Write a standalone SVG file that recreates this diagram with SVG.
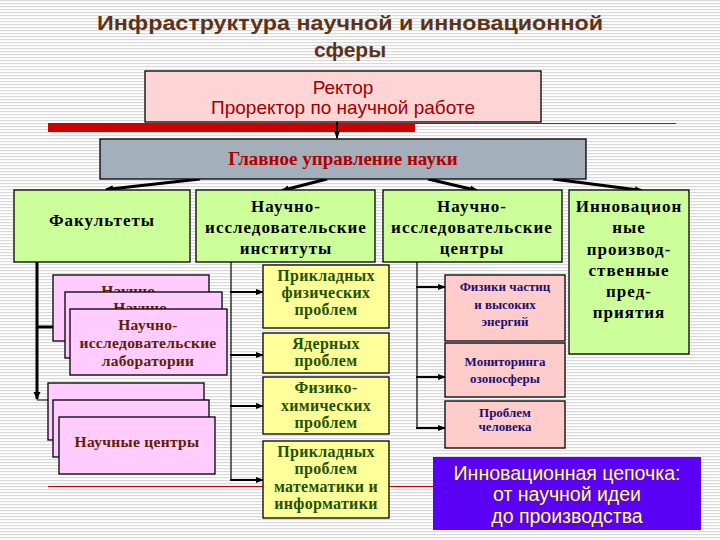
<svg xmlns="http://www.w3.org/2000/svg" width="720" height="540" viewBox="0 0 720 540">
<defs>
<pattern id="stripes" width="6" height="3" patternUnits="userSpaceOnUse">
<rect width="6" height="3" fill="#ffffff"/>
<rect y="0" width="6" height="1.2" fill="#d9d9d9"/>
</pattern>
<marker id="ah" markerWidth="8" markerHeight="8" refX="7" refY="4" orient="auto" markerUnits="userSpaceOnUse">
<path d="M0,0.5 L8,4 L0,7.5 Z" fill="#000"/>
</marker>
<marker id="ahs" markerWidth="8" markerHeight="8" refX="7" refY="4" orient="auto" markerUnits="userSpaceOnUse">
<path d="M0,1 L8,4 L0,7 Z" fill="#000"/>
</marker>
</defs>
<style>
.box{stroke:#000;stroke-width:1.3}
.green{fill:#ccff99}
.lab{fill:#ffccff}
.rose{fill:#ffcccc}
.yel{fill:#ffff99}
.ser{font-family:"Liberation Serif","DejaVu Serif",serif;font-weight:bold;text-anchor:middle}
.sans{font-family:"Liberation Sans",Arial,sans-serif;text-anchor:middle}
.blk{fill:#000;font-size:17px;letter-spacing:1px}
.brn{fill:#5c2200;font-size:15.5px;letter-spacing:0.3px}
.grn{fill:#1f5200;font-size:16px;letter-spacing:0.3px}
.navy{fill:#1a1070;font-size:13px}
.chain{fill:#ffff70;font-size:19.5px}
.con{stroke:#000;fill:none}
</style>
<rect width="720" height="540" fill="url(#stripes)"/>
<!-- template lines -->
<rect x="48" y="123" width="367" height="9" fill="#cc0000"/>
<line x1="415" y1="123.5" x2="676" y2="123.5" stroke="#cc0000" stroke-width="1"/>
<line x1="48" y1="486.5" x2="433" y2="486.5" stroke="#cc0000" stroke-width="1"/>

<g id="title">
<text class="sans" x="350" y="30" font-weight="bold" font-size="21" fill="#5c3317" textLength="506" lengthAdjust="spacingAndGlyphs">Инфраструктура научной и инновационной</text>
<text class="sans" x="350" y="57" font-weight="bold" font-size="21" fill="#5c3317">сферы</text>
</g>

<g id="connectors">
<line class="con" x1="337" y1="122" x2="337" y2="138" stroke-width="2" marker-end="url(#ahs)"/>
<line class="con" x1="200" y1="179" x2="106" y2="189.5" stroke-width="3" marker-end="url(#ah)"/>
<line class="con" x1="327" y1="179" x2="282" y2="190.5" stroke-width="3" marker-end="url(#ah)"/>
<line class="con" x1="428" y1="179" x2="477" y2="190.5" stroke-width="3" marker-end="url(#ah)"/>
<line class="con" x1="553" y1="179" x2="642" y2="190.5" stroke-width="3" marker-end="url(#ah)"/>
<!-- faculties -->
<line class="con" x1="37" y1="262" x2="37" y2="399" stroke-width="3" marker-end="url(#ah)"/>
<line class="con" x1="37" y1="400" x2="48" y2="400" stroke-width="1"/>
<line class="con" x1="37" y1="327" x2="65" y2="327" stroke-width="3" marker-end="url(#ah)"/>
<!-- institutes -->
<line class="con" x1="231" y1="262" x2="231" y2="480" stroke-width="1.2"/>
<line class="con" x1="230" y1="292" x2="263" y2="292" stroke-width="2" marker-end="url(#ahs)"/>
<line class="con" x1="230" y1="355" x2="263" y2="355" stroke-width="2" marker-end="url(#ahs)"/>
<line class="con" x1="230" y1="406" x2="263" y2="406" stroke-width="2" marker-end="url(#ahs)"/>
<line class="con" x1="230" y1="480" x2="263" y2="480" stroke-width="2" marker-end="url(#ahs)"/>
<!-- centres -->
<line class="con" x1="417" y1="262" x2="417" y2="429" stroke-width="1.2"/>
<line class="con" x1="416" y1="287" x2="445" y2="287" stroke-width="2" marker-end="url(#ahs)"/>
<line class="con" x1="416" y1="377" x2="445" y2="377" stroke-width="2" marker-end="url(#ahs)"/>
<line class="con" x1="416" y1="428" x2="445" y2="428" stroke-width="2" marker-end="url(#ahs)"/>
</g>

<g id="rector">
<rect class="box" x="145" y="71" width="396" height="51" fill="#fdd5d5"/>
<text class="sans" x="343" y="94" font-size="19" fill="#a00000">Ректор</text>
<text class="sans" x="343" y="114" font-size="19" fill="#a00000">Проректор по научной работе</text>
</g>

<g id="main">
<rect class="box" x="100" y="139" width="486" height="40" fill="#a4afbc"/>
<text class="ser" x="343" y="165" font-size="19" fill="#b00000">Главное управление науки</text>
</g>

<g id="faculties">
<rect class="box green" x="14" y="190" width="176" height="72"/>
<text class="ser blk" x="102" y="226">Факультеты</text>
</g>

<g id="institutes">
<rect class="box green" x="196" y="190" width="179" height="72"/>
<text class="ser blk" x="286" y="212">Научно-</text>
<text class="ser blk" x="286" y="233">исследовательские</text>
<text class="ser blk" x="286" y="254">институты</text>
</g>

<g id="centres">
<rect class="box green" x="383" y="190" width="179" height="72"/>
<text class="ser blk" x="472" y="212">Научно-</text>
<text class="ser blk" x="472" y="233">исследовательские</text>
<text class="ser blk" x="472" y="254">центры</text>
</g>

<g id="innov">
<rect class="box green" x="569" y="190" width="120" height="164"/>
<text class="ser blk" x="629" y="212">Инновацион</text>
<text class="ser blk" x="629" y="233">ные</text>
<text class="ser blk" x="629" y="255">производ-</text>
<text class="ser blk" x="629" y="276">ственные</text>
<text class="ser blk" x="629" y="297">пред-</text>
<text class="ser blk" x="629" y="318">приятия</text>
</g>

<g id="labs">
<rect class="box lab" x="53" y="275" width="156" height="66"/>
<text class="ser brn" x="131" y="296">Научно-</text>
<rect class="box lab" x="65" y="292" width="157" height="66"/>
<text class="ser brn" x="143" y="313">Научно-</text>
<rect class="box lab" x="70" y="309" width="157" height="66"/>
<text class="ser brn" x="148" y="330">Научно-</text>
<text class="ser brn" x="148" y="348">исследовательские</text>
<text class="ser brn" x="148" y="366">лаборатории</text>
</g>

<g id="sci-centres">
<rect class="box lab" x="48" y="383" width="156" height="57"/>
<rect class="box lab" x="53" y="400" width="156" height="57"/>
<rect class="box lab" x="59" y="417" width="156" height="57"/>
<text class="ser brn" x="137" y="447">Научные центры</text>
</g>

<g id="inst1">
<rect class="box yel" x="263" y="265" width="126" height="63"/>
<text class="ser grn" x="326" y="281">Прикладных</text>
<text class="ser grn" x="326" y="298">физических</text>
<text class="ser grn" x="326" y="315">проблем</text>
</g>
<g id="inst2">
<rect class="box yel" x="263" y="333" width="126" height="40"/>
<text class="ser grn" x="326" y="349">Ядерных</text>
<text class="ser grn" x="326" y="366">проблем</text>
</g>
<g id="inst3">
<rect class="box yel" x="263" y="377" width="126" height="57"/>
<text class="ser grn" x="326" y="393">Физико-</text>
<text class="ser grn" x="326" y="411">химических</text>
<text class="ser grn" x="326" y="428">проблем</text>
</g>
<g id="inst4">
<rect class="box yel" x="263" y="441" width="126" height="77"/>
<text class="ser grn" x="326" y="457" font-size="13" letter-spacing="0">Прикладных</text>
<text class="ser grn" x="326" y="474" font-size="13" letter-spacing="0">проблем</text>
<text class="ser grn" x="326" y="492" font-size="13" letter-spacing="0">математики и</text>
<text class="ser grn" x="326" y="509" font-size="13" letter-spacing="0">информатики</text>
</g>

<g id="c1">
<rect class="box rose" x="445" y="275" width="120" height="66"/>
<text class="ser navy" x="505" y="291">Физики частиц</text>
<text class="ser navy" x="505" y="309">и высоких</text>
<text class="ser navy" x="505" y="326">энергий</text>
</g>
<g id="c2">
<rect class="box rose" x="445" y="343" width="120" height="54"/>
<text class="ser navy" x="505" y="366">Мониторинга</text>
<text class="ser navy" x="505" y="383">озоносферы</text>
</g>
<g id="c3">
<rect class="box rose" x="445" y="401" width="120" height="47"/>
<text class="ser navy" x="505" y="417">Проблем</text>
<text class="ser navy" x="505" y="431">человека</text>
</g>

<g id="chain">
<rect x="433" y="457" width="268" height="73" fill="#5a00f5"/>
<text class="sans chain" x="567" y="480">Инновационная цепочка:</text>
<text class="sans chain" x="567" y="501">от научной идеи</text>
<text class="sans chain" x="567" y="523">до производства</text>
</g>
</svg>
